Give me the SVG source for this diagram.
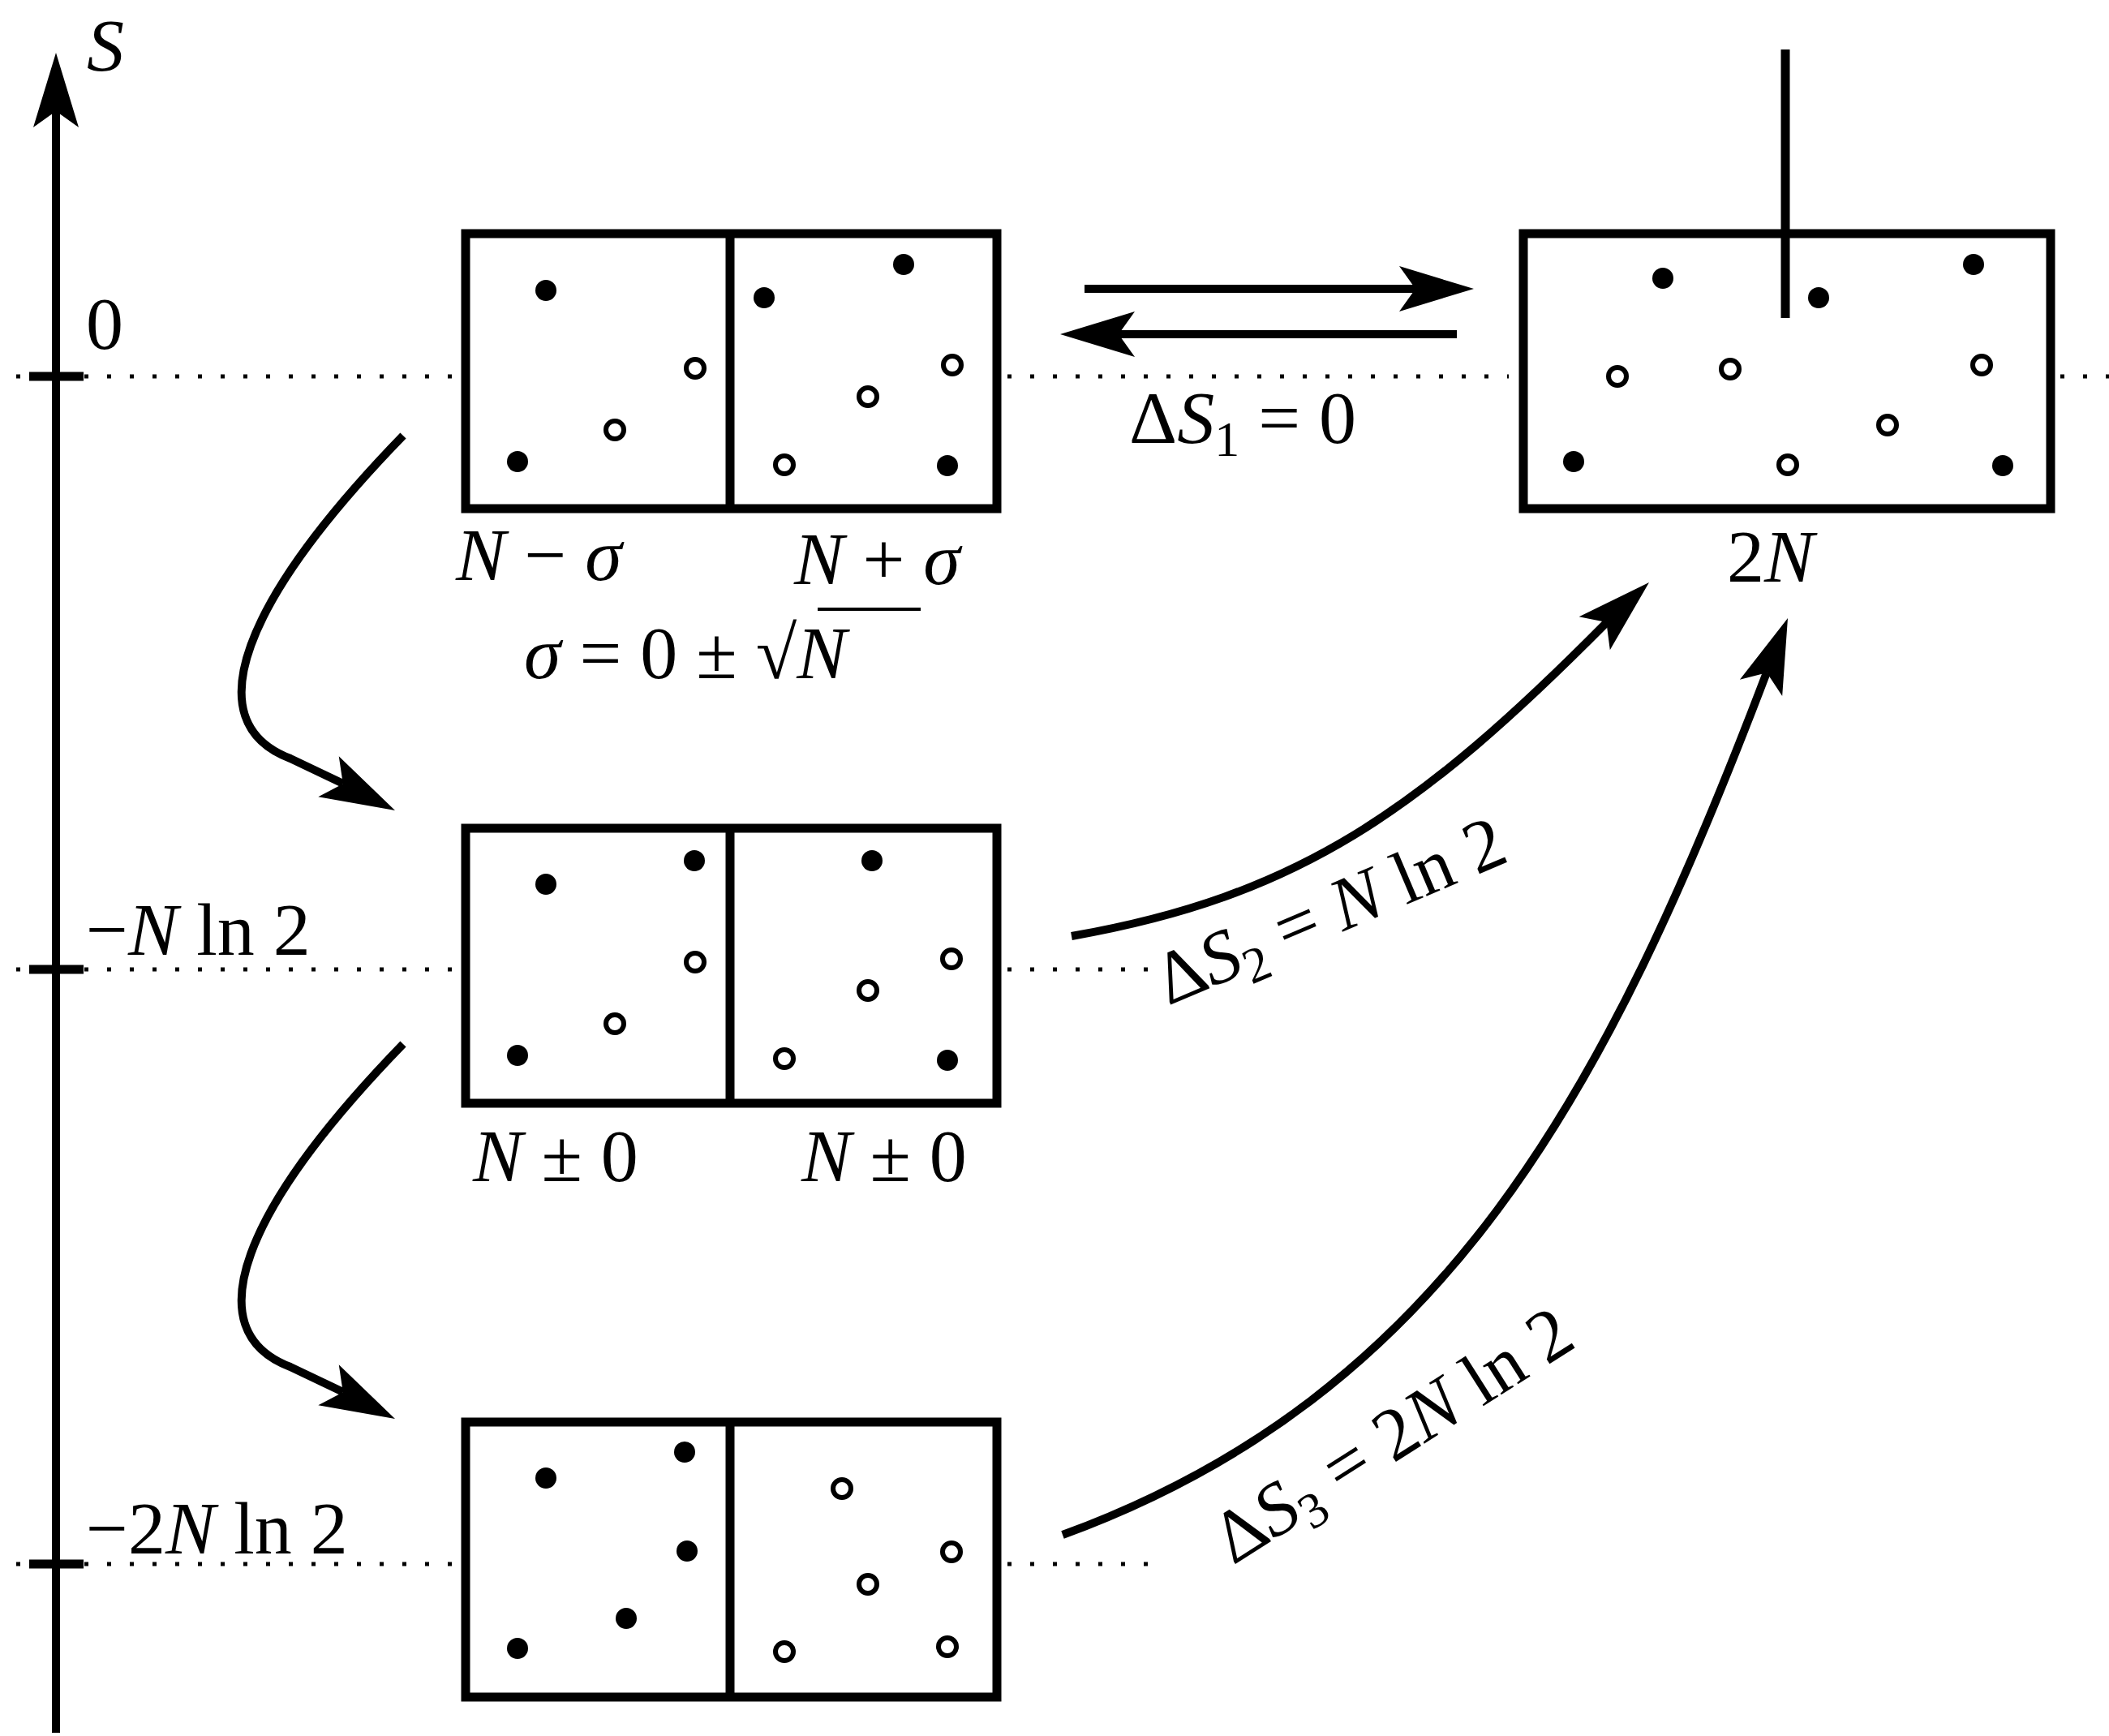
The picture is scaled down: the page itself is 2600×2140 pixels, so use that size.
<svg xmlns="http://www.w3.org/2000/svg" width="2600" height="2140" viewBox="0 0 2600 2140">
<style>
.box{fill:none;stroke:#000;stroke-width:11}
.ln{fill:none;stroke:#000;stroke-width:10}
.dot{stroke:#000;stroke-width:5;stroke-dasharray:5 23;fill:none}
.f{fill:#000}
.o{fill:#fff;stroke:#000;stroke-width:6}
text{font-family:"Liberation Serif",serif;font-size:92px;fill:#000}
.i{font-style:italic}
.sub{font-size:62px}
</style>
<defs>
<path id="ah" d="M0,0 L-92,-28 L-72,0 L-92,28 Z" fill="#000"/>
<circle id="fd" r="13" class="f"/>
<circle id="od" r="11" class="o"/>
</defs>
<g id="axis">
<line x1="69" y1="2136" x2="69" y2="130" class="ln"/>
<use href="#ah" transform="translate(69,65) rotate(-90)"/>
<text x="107" y="87" class="i">S</text>
<line x1="36" y1="464" x2="103" y2="464" stroke="#000" stroke-width="11"/>
<line x1="36" y1="1195" x2="103" y2="1195" stroke="#000" stroke-width="11"/>
<line x1="36" y1="1928" x2="103" y2="1928" stroke="#000" stroke-width="11"/>
<text x="106" y="430">0</text>
<text x="106" y="1177">−<tspan class="i">N</tspan> ln 2</text>
<text x="106" y="1915">−2<tspan class="i">N</tspan> ln 2</text>
</g>
<g id="guides">
<line x1="20" y1="464" x2="570" y2="464" class="dot"/>
<line x1="1242" y1="464" x2="1860" y2="464" class="dot"/>
<line x1="2540" y1="464" x2="2600" y2="464" class="dot"/>
<line x1="20" y1="1195" x2="570" y2="1195" class="dot"/>
<line x1="1242" y1="1195" x2="1430" y2="1195" class="dot"/>
<line x1="20" y1="1928" x2="570" y2="1928" class="dot"/>
<line x1="1242" y1="1928" x2="1430" y2="1928" class="dot"/>
</g>
<g id="box1">
<rect x="574" y="288" width="655" height="339" class="box"/>
<line x1="900" y1="288" x2="900" y2="627" class="box"/>
<use href="#fd" x="673" y="358"/><use href="#fd" x="638" y="569"/><use href="#fd" x="942" y="367"/><use href="#fd" x="1114" y="326"/><use href="#fd" x="1168" y="574"/>
<use href="#od" x="857" y="454"/><use href="#od" x="758" y="530"/><use href="#od" x="1174" y="450"/><use href="#od" x="1070" y="489"/><use href="#od" x="967" y="573"/>
<text x="562" y="715"><tspan class="i">N</tspan> − <tspan class="i">σ</tspan></text>
<text x="979" y="720"><tspan class="i">N</tspan> + <tspan class="i">σ</tspan></text>
<text x="646" y="836"><tspan class="i">σ</tspan> = 0 ± √<tspan class="i">N</tspan></text>
<line x1="1008" y1="751" x2="1135" y2="751" stroke="#000" stroke-width="4"/>
</g>
<g id="box2">
<rect x="574" y="1021" width="655" height="339" class="box"/>
<line x1="900" y1="1021" x2="900" y2="1360" class="box"/>
<use href="#fd" x="673" y="1090"/><use href="#fd" x="638" y="1301"/><use href="#fd" x="856" y="1061"/><use href="#fd" x="1075" y="1061"/><use href="#fd" x="1168" y="1307"/>
<use href="#od" x="857" y="1186"/><use href="#od" x="758" y="1262"/><use href="#od" x="1173" y="1182"/><use href="#od" x="1070" y="1221"/><use href="#od" x="967" y="1305"/>
<text x="583" y="1456"><tspan class="i">N</tspan> ± 0</text>
<text x="988" y="1456"><tspan class="i">N</tspan> ± 0</text>
</g>
<g id="box3">
<rect x="574" y="1753" width="655" height="339" class="box"/>
<line x1="900" y1="1753" x2="900" y2="2092" class="box"/>
<use href="#fd" x="673" y="1822"/><use href="#fd" x="844" y="1790"/><use href="#fd" x="847" y="1912"/><use href="#fd" x="772" y="1995"/><use href="#fd" x="638" y="2032"/>
<use href="#od" x="1038" y="1835"/><use href="#od" x="1173" y="1913"/><use href="#od" x="1070" y="1953"/><use href="#od" x="967" y="2036"/><use href="#od" x="1168" y="2030"/>
</g>
<g id="box4">
<rect x="1878" y="288" width="650" height="339" class="box"/>
<line x1="2201" y1="61" x2="2201" y2="392" class="box"/>
<use href="#fd" x="2050" y="343"/><use href="#fd" x="2242" y="367"/><use href="#fd" x="2433" y="326"/><use href="#fd" x="1940" y="569"/><use href="#fd" x="2469" y="574"/>
<use href="#od" x="1994" y="464"/><use href="#od" x="2133" y="455"/><use href="#od" x="2443" y="450"/><use href="#od" x="2327" y="524"/><use href="#od" x="2204" y="573"/>
<text x="2129" y="717">2<tspan class="i">N</tspan></text>
</g>
<g id="connectors">
<line x1="1337" y1="356" x2="1750" y2="356" class="ln"/>
<use href="#ah" transform="translate(1817,356)"/>
<line x1="1796" y1="412" x2="1375" y2="412" class="ln"/>
<use href="#ah" transform="translate(1307,412) rotate(180)"/>
<path d="M497,537 C300,740 240,890 358,935 L423,966" class="ln"/>
<use href="#ah" transform="translate(487,999) rotate(27)"/>
<path d="M497,1287 C300,1490 240,1640 358,1685 L423,1716" class="ln"/>
<use href="#ah" transform="translate(487,1749) rotate(27)"/>
<path d="M1321,1154 C1600,1105 1750,1000 1981,767" class="ln"/>
<use href="#ah" transform="translate(2033,718) rotate(-43)"/>
<path d="M1310,1892 C1780,1720 1980,1350 2178,829" class="ln" stroke-width="9"/>
<use href="#ah" transform="translate(2204,762) rotate(-69)"/>
<text x="1392" y="546">Δ<tspan class="i">S</tspan><tspan class="sub" dy="16">1</tspan><tspan dy="-16"> = 0</tspan></text>
<text transform="translate(1440,1240) rotate(-23)">Δ<tspan class="i">S</tspan><tspan class="sub" dy="16">2</tspan><tspan dy="-16"> = </tspan><tspan class="i">N</tspan> ln 2</text>
<text transform="translate(1520,1930) rotate(-32.5)">Δ<tspan class="i">S</tspan><tspan class="sub" dy="16">3</tspan><tspan dy="-16"> = 2</tspan><tspan class="i">N</tspan> ln 2</text>
</g>
</svg>
